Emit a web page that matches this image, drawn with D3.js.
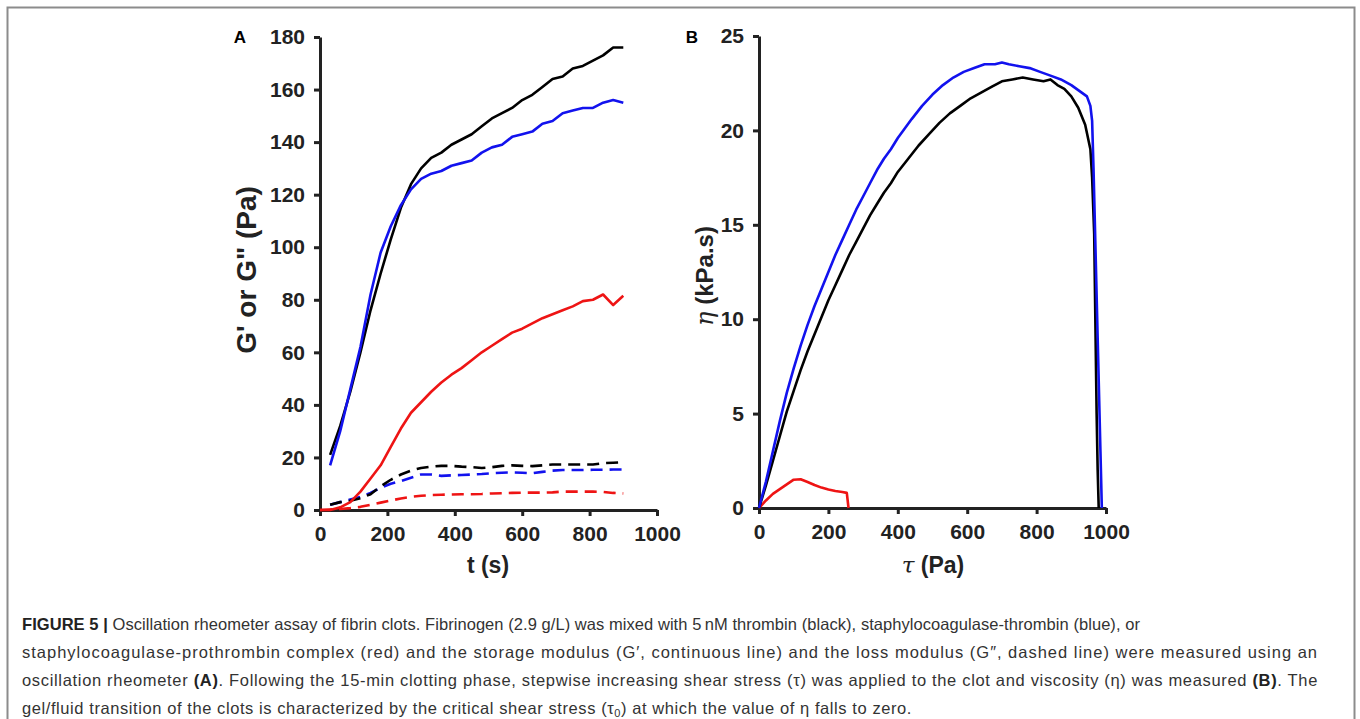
<!DOCTYPE html>
<html>
<head>
<meta charset="utf-8">
<script src="https://cdn.jsdelivr.net/npm/d3@7"></script>
<style>
  body { margin: 0; background: #fff; }
  svg { display: block; }
</style>
</head>
<body>
<svg id="drawspace" width="1360" height="719"></svg>
<script>
let drawSpace = d3.select("#drawspace");

// panel A: time (s) vs modulus (Pa)
let timeA = [0, 30, 60, 90, 120, 150, 180, 210, 240, 270, 300, 330, 360, 390, 420, 450, 480, 510, 540, 570, 600, 630, 660, 690, 720, 750, 780, 810, 840, 870, 900];
let gStoreBlack = [null, 21, 32, 45, 60, 76, 90, 103, 115, 124, 130, 134, 136, 139, 141, 143, 146, 149, 151, 153, 156, 158, 161, 164, 165, 168, 169, 171, 173, 176, 176];
let gStoreBlue = [null, 17, 30, 46, 62, 82, 98, 108, 116, 122, 126, 128, 129, 131, 132, 133, 136, 138, 139, 142, 143, 144, 147, 148, 151, 152, 153, 153, 155, 156, 155];
let gStoreRed = [0, 0, 1, 3, 7, 12, 17, 24, 31, 37, 41, 45, 48.5, 51.5, 54, 57, 60, 62.5, 65, 67.5, 69, 71, 73, 74.5, 76, 77.5, 79.5, 80, 82, 78, 81.5];
let gLossBlack = [null, 2, 3, 3.5, 4.5, 6, 9, 11.5, 13.5, 15, 16, 16.5, 16.8, 16.8, 16.5, 16.3, 16, 16.3, 16.8, 17, 16.8, 16.7, 17, 17.3, 17.3, 17.3, 17.3, 17.3, 17.8, 18, 18.2];
let gLossBlue = [null, 2, 3, 4, 5, 6.5, 8.5, 10, 11, 12.3, 13.5, 13.5, 13, 13.2, 13.3, 13.5, 13.7, 14, 14.2, 14.3, 14.2, 14, 14.5, 15, 15.2, 15.2, 15.2, 15.3, 15.3, 15.4, 15.4];
let gLossRed = [0, 0.2, 0.4, 0.7, 1.2, 2, 2.8, 3.6, 4.4, 5, 5.4, 5.7, 5.8, 5.9, 6, 6, 6.1, 6.3, 6.4, 6.5, 6.6, 6.6, 6.6, 6.7, 7, 7, 7, 7, 6.9, 6.5, 6.3];
let ticksA_x = [0, 200, 400, 600, 800, 1000];
let ticksA_y = [0, 20, 40, 60, 80, 100, 120, 140, 160, 180];

// panel B: shear stress (Pa) vs viscosity (kPa.s)
let tauBlack = [0, 20, 40, 60, 80, 100, 120, 140, 160, 180, 200, 220, 240, 260, 280, 300, 320, 340, 360, 380, 400, 430, 460, 490, 520, 550, 580, 610, 640, 670, 700, 730, 760, 790, 820, 840, 860, 880, 900, 920, 940, 955, 960, 966, 970, 973, 976, 979];
let etaBlack = [0, 1.2, 2.5, 3.8, 5.1, 6.2, 7.3, 8.3, 9.2, 10.1, 11.0, 11.8, 12.6, 13.4, 14.1, 14.8, 15.5, 16.1, 16.7, 17.2, 17.8, 18.5, 19.2, 19.8, 20.4, 20.9, 21.3, 21.7, 22.0, 22.3, 22.6, 22.7, 22.8, 22.7, 22.6, 22.7, 22.4, 22.2, 21.8, 21.2, 20.3, 19.0, 17.5, 14.5, 9, 5, 2, 0];
let tauBlue = [0, 20, 40, 60, 80, 100, 120, 140, 160, 180, 200, 220, 240, 260, 280, 300, 320, 340, 360, 380, 400, 420, 440, 470, 500, 530, 560, 590, 620, 650, 680, 700, 720, 750, 780, 810, 840, 870, 900, 930, 945, 955, 960, 964, 968, 972, 976, 980, 984, 988];
let etaBlue = [0, 1.4, 3.0, 4.6, 6.1, 7.4, 8.6, 9.7, 10.7, 11.6, 12.5, 13.4, 14.2, 15.0, 15.8, 16.5, 17.2, 17.9, 18.5, 19.0, 19.6, 20.1, 20.6, 21.3, 21.9, 22.4, 22.8, 23.1, 23.3, 23.5, 23.5, 23.6, 23.5, 23.4, 23.3, 23.1, 22.9, 22.7, 22.4, 22.0, 21.8, 21.3, 20.5, 18, 15, 12, 9, 6, 3, 0];
let tauRed = [0, 20, 40, 60, 80, 100, 120, 140, 160, 180, 200, 220, 240, 253, 258];
let etaRed = [0, 0.4, 0.75, 1.0, 1.25, 1.5, 1.52, 1.38, 1.22, 1.08, 0.98, 0.9, 0.85, 0.8, 0];
let ticksB_x = [0, 200, 400, 600, 800, 1000];
let ticksB_y = [0, 5, 10, 15, 20, 25];

let colBlack = "#000000";
let colBlue = "#1212ee";
let colRed = "#ee1414";

let sans = "'Liberation Sans', Arial, sans-serif";
let serif = "'DejaVu Serif', 'Liberation Serif', serif";

// frame
drawSpace.append("rect")
  .attr("x", 7.5).attr("y", 7.5)
  .attr("width", 1347).attr("height", 800)
  .attr("fill", "none")
  .attr("stroke", "#8c8c8c")
  .attr("stroke-width", 2);

function styleAxis(g) {
  g.select(".domain").attr("stroke", "#222").attr("stroke-width", 3);
  g.selectAll(".tick line").attr("stroke", "#222").attr("stroke-width", 3);
  g.selectAll(".tick text")
    .attr("font-family", sans)
    .attr("font-weight", "bold")
    .attr("font-size", 21)
    .attr("fill", "#222");
}

function drawPanel(xs, ys, xTicks, yTicks) {
  drawSpace.append("g")
    .attr("transform", "translate(0," + ys.range()[0] + ")")
    .call(d3.axisBottom(xs).tickValues(xTicks).tickFormat(d3.format("d")).tickSize(6).tickSizeOuter(0).tickPadding(10))
    .call(styleAxis);
  drawSpace.append("g")
    .attr("transform", "translate(" + xs.range()[0] + ",0)")
    .call(d3.axisLeft(ys).tickValues(yTicks).tickFormat(d3.format("d")).tickSize(6).tickSizeOuter(0).tickPadding(9))
    .call(styleAxis);
}

function drawSeries(xs, ys, xv, yv, color, dashed) {
  let pts = xv.map((x, i) => [x, yv[i]]).filter(p => p[1] !== null);
  let line = d3.line().x(d => xs(d[0])).y(d => ys(d[1]));
  drawSpace.append("path")
    .attr("d", line(pts))
    .attr("fill", "none")
    .attr("stroke", color)
    .attr("stroke-width", 2.6)
    .attr("stroke-linejoin", "round")
    .attr("stroke-dasharray", dashed ? "12,7" : null);
}

// ---- panel A
let xA = d3.scaleLinear().domain([0, 1000]).range([320, 657]);
let yA = d3.scaleLinear().domain([0, 180]).range([510, 37]);
drawPanel(xA, yA, ticksA_x, ticksA_y);

drawSeries(xA, yA, timeA, gLossRed, colRed, true);
drawSeries(xA, yA, timeA, gLossBlue, colBlue, true);
drawSeries(xA, yA, timeA, gLossBlack, colBlack, true);
drawSeries(xA, yA, timeA, gStoreRed, colRed, false);
drawSeries(xA, yA, timeA, gStoreBlack, colBlack, false);
drawSeries(xA, yA, timeA, gStoreBlue, colBlue, false);

drawSpace.append("text")
  .attr("x", 240).attr("y", 43)
  .attr("text-anchor", "middle")
  .attr("font-family", sans).attr("font-weight", "bold").attr("font-size", 17)
  .text("A");

drawSpace.append("text")
  .attr("x", 488).attr("y", 573)
  .attr("text-anchor", "middle")
  .attr("font-family", sans).attr("font-weight", "bold").attr("font-size", 23)
  .attr("fill", "#222")
  .text("t (s)");

drawSpace.append("text")
  .attr("transform", "translate(256,270) rotate(-90)")
  .attr("text-anchor", "middle")
  .attr("font-family", sans).attr("font-weight", "bold").attr("font-size", 28)
  .attr("fill", "#222")
  .text("G' or G\" (Pa)");

// ---- panel B
let xB = d3.scaleLinear().domain([0, 1000]).range([759, 1106]);
let yB = d3.scaleLinear().domain([0, 25]).range([508, 36]);
drawPanel(xB, yB, ticksB_x, ticksB_y);

drawSeries(xB, yB, tauRed, etaRed, colRed, false);
drawSeries(xB, yB, tauBlack, etaBlack, colBlack, false);
drawSeries(xB, yB, tauBlue, etaBlue, colBlue, false);

drawSpace.append("text")
  .attr("x", 692).attr("y", 43)
  .attr("text-anchor", "middle")
  .attr("font-family", sans).attr("font-weight", "bold").attr("font-size", 17)
  .text("B");

let xtB = drawSpace.append("text")
  .attr("x", 933).attr("y", 573)
  .attr("text-anchor", "middle")
  .attr("font-size", 23).attr("fill", "#222");
xtB.append("tspan").attr("font-family", serif).attr("font-style", "italic").text("τ");
xtB.append("tspan").attr("font-family", sans).attr("font-weight", "bold").text(" (Pa)");

let ytB = drawSpace.append("text")
  .attr("transform", "translate(713,276) rotate(-90)")
  .attr("text-anchor", "middle")
  .attr("font-size", 24).attr("fill", "#222");
ytB.append("tspan").attr("font-family", serif).attr("font-style", "italic").text("η");
ytB.append("tspan").attr("font-family", sans).attr("font-weight", "bold").text(" (kPa.s)");

// ---- caption
let capLines = [
  [["b", "FIGURE 5 | "], ["r", "Oscillation rheometer assay of fibrin clots. Fibrinogen (2.9 g/L) was mixed with 5\u2009nM thrombin (black), staphylocoagulase-thrombin (blue), or"]],
  [["r", "staphylocoagulase-prothrombin complex (red) and the storage modulus (G\u2032, continuous line) and the loss modulus (G\u2033, dashed line) were measured using an"]],
  [["r", "oscillation rheometer "], ["b", "(A)"], ["r", ". Following the 15-min clotting phase, stepwise increasing shear stress (\u03c4) was applied to the clot and viscosity (\u03b7) was measured "], ["b", "(B)"], ["r", ". The"]],
  [["r", "gel/fluid transition of the clots is characterized by the critical shear stress (\u03c4"], ["sub", "0"], ["r", ") at which the value of \u03b7 falls to zero."]]
];
let capY = [630, 658, 686, 714];
let capEnd = [1140, 1318, 1318, 912];

capLines.forEach((parts, i) => {
  let t = drawSpace.append("text")
    .attr("x", 22).attr("y", capY[i])
    .attr("font-family", sans).attr("font-size", 16.5).attr("fill", "#333");
  parts.forEach(p => {
    let s = t.append("tspan").text(p[1]);
    if (p[0] === "b") s.attr("font-weight", "bold").attr("fill", "#222");
    if (p[0] === "sub") s.attr("font-size", 11).attr("dy", 3);
    if (p[0] === "r" && i === 3 && p[1].startsWith(")")) s.attr("dy", -3);
  });
  // stretch the line a little so it ends where the printed line ends
  let w = t.node().getComputedTextLength();
  let n = parts.reduce((a, p) => a + p[1].length, 0);
  t.attr("letter-spacing", ((capEnd[i] - 22) - w) / n);
});
</script>
</body>
</html>
